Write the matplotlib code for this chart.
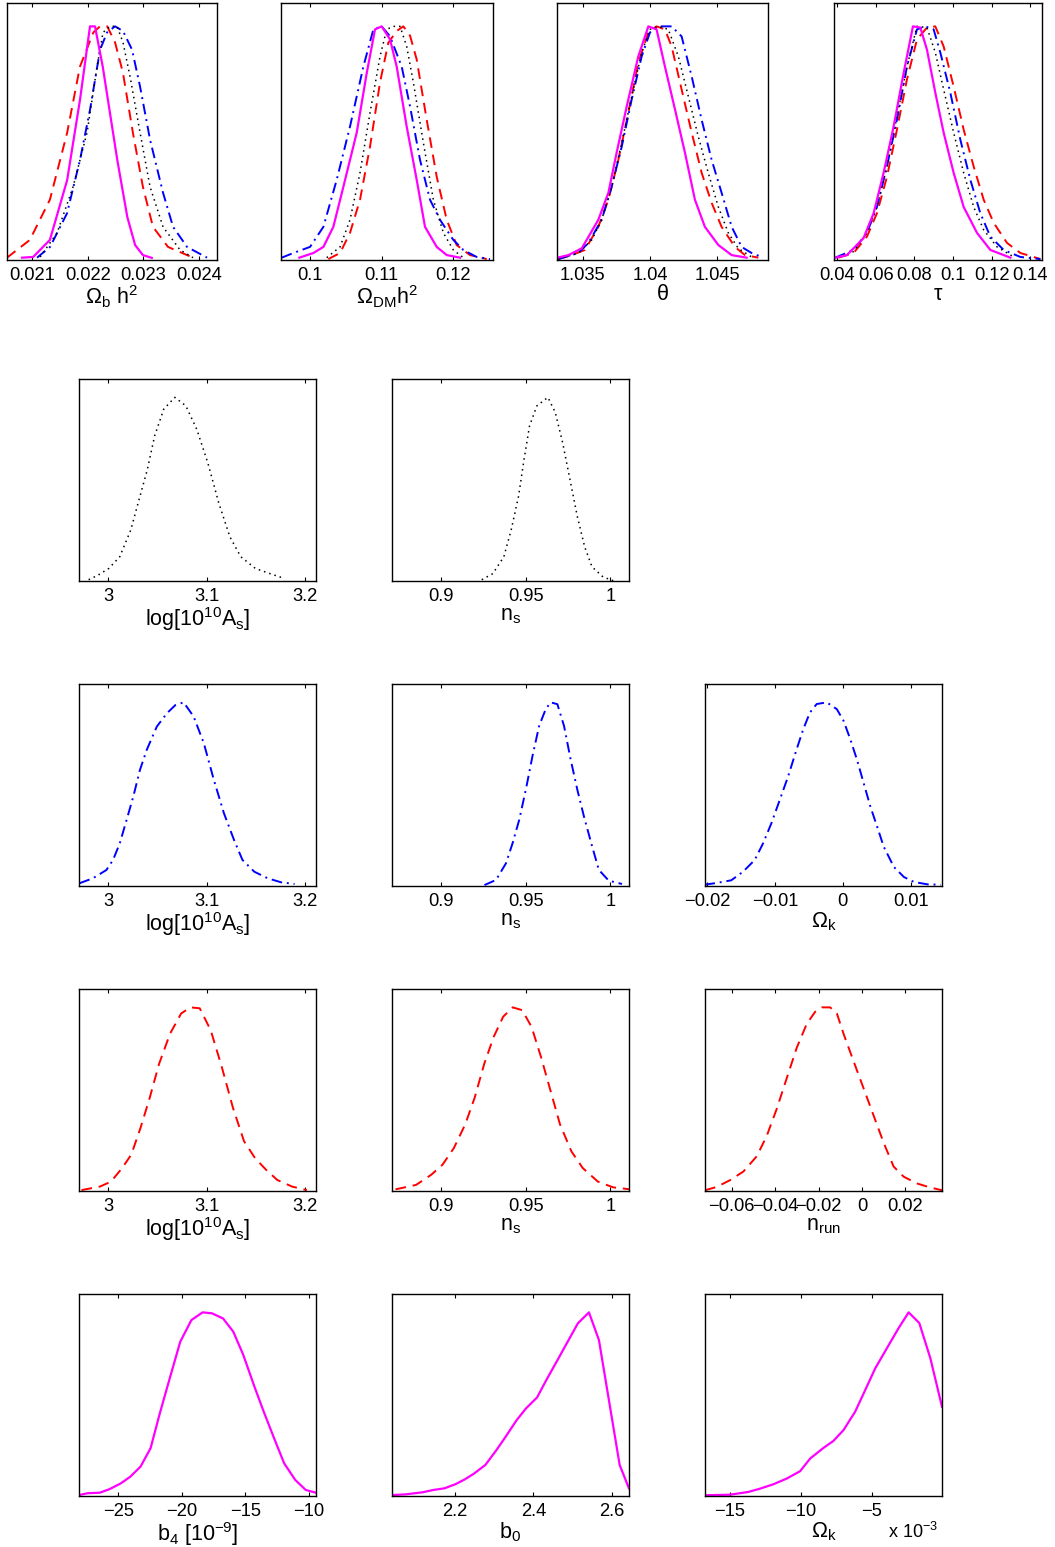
import matplotlib
matplotlib.use("Agg")
import matplotlib.pyplot as plt
from matplotlib.ticker import FuncFormatter, FixedLocator

plt.rcParams['font.family'] = ['Liberation Sans', 'DejaVu Sans']
plt.rcParams['mathtext.default'] = 'regular'
plt.rcParams['mathtext.fontset'] = 'custom'
plt.rcParams['mathtext.rm'] = 'Liberation Sans'
plt.rcParams['mathtext.it'] = 'Liberation Sans'

# ---------------- Row 1 : Omega_b h^2 ----------------
obh2_mag_x = [0.02082, 0.02102, 0.02132, 0.02163, 0.02186, 0.02204, 0.02213, 0.02227, 0.02253, 0.02271, 0.02285, 0.02299, 0.02315]
obh2_mag_y = [0.01, 0.013, 0.086, 0.342, 0.685, 1.0, 1.0, 0.826, 0.428, 0.184, 0.064, 0.021, 0.009]
obh2_red_x = [0.02055, 0.02096, 0.02132, 0.02163, 0.02186, 0.02210, 0.02222, 0.02235, 0.02249, 0.02263, 0.02281, 0.02299, 0.02317, 0.02344, 0.02389]
obh2_red_y = [0.01, 0.086, 0.258, 0.545, 0.828, 0.974, 1.0, 1.0, 0.931, 0.803, 0.545, 0.313, 0.142, 0.056, 0.01]
obh2_blk_x = [0.021144, 0.021449, 0.021736, 0.021987, 0.022167, 0.022274, 0.022400, 0.022526, 0.022633, 0.022759, 0.022939, 0.023118, 0.023351, 0.023657, 0.023890]
obh2_blk_y = [0.013, 0.116, 0.313, 0.545, 0.828, 0.974, 1.0, 1.0, 0.931, 0.785, 0.545, 0.313, 0.142, 0.043, 0.01]
obh2_blu_x = [0.021090, 0.021323, 0.021628, 0.021862, 0.022041, 0.022221, 0.022346, 0.022490, 0.022633, 0.022795, 0.022939, 0.023118, 0.023351, 0.023531, 0.023782, 0.024141]
obh2_blu_y = [0.01, 0.056, 0.20, 0.43, 0.644, 0.90, 0.974, 1.0, 0.98, 0.90, 0.742, 0.515, 0.288, 0.142, 0.056, 0.01]

# ---------------- Row 1 : Omega_DM h^2 ----------------
odm_mag_x = [0.09851, 0.10047, 0.10187, 0.10326, 0.10466, 0.10653, 0.10793, 0.10909, 0.11002, 0.11119, 0.11212, 0.11352, 0.11492, 0.11608, 0.11772, 0.11912, 0.12098]
odm_mag_y = [0.01, 0.03, 0.056, 0.142, 0.313, 0.545, 0.80, 0.987, 1.0, 0.944, 0.828, 0.571, 0.343, 0.142, 0.056, 0.021, 0.01]
odm_blu_x = [0.09604, 0.09767, 0.1000, 0.10187, 0.10373, 0.10559, 0.10746, 0.10886, 0.11002, 0.11119, 0.11282, 0.11399, 0.11538, 0.11678, 0.11818, 0.12004, 0.12144, 0.12331, 0.12517]
odm_blu_y = [0.01, 0.03, 0.056, 0.142, 0.343, 0.571, 0.828, 0.987, 1.0, 0.957, 0.828, 0.657, 0.429, 0.258, 0.172, 0.086, 0.043, 0.013, 0.004]
odm_blk_x = [0.10233, 0.10420, 0.10559, 0.10699, 0.10839, 0.10979, 0.11072, 0.11165, 0.11259, 0.11352, 0.11445, 0.11585, 0.11725, 0.11865, 0.12004, 0.12144]
odm_blk_y = [0.01, 0.056, 0.172, 0.373, 0.63, 0.871, 0.987, 1.0, 1.0, 0.914, 0.76, 0.502, 0.258, 0.116, 0.043, 0.01]
odm_red_x = [0.10256, 0.10420, 0.10559, 0.10699, 0.10839, 0.10979, 0.11095, 0.11212, 0.11305, 0.11399, 0.11492, 0.11632, 0.11772, 0.11912, 0.12051, 0.12238, 0.12471]
odm_red_y = [0.004, 0.03, 0.116, 0.258, 0.485, 0.76, 0.93, 0.98, 1.0, 0.96, 0.858, 0.60, 0.356, 0.172, 0.064, 0.021, 0.004]

# ---------------- Row 1 : theta ----------------
th_mag_x = [1.03312, 1.03394, 1.03493, 1.03616, 1.03691, 1.03752, 1.03827, 1.03913, 1.03988, 1.04049, 1.04111, 1.04186, 1.04260, 1.04334, 1.04408, 1.04508, 1.04607, 1.04718]
th_mag_y = [0.01, 0.021, 0.05, 0.172, 0.288, 0.459, 0.657, 0.871, 1.0, 0.987, 0.828, 0.644, 0.459, 0.258, 0.142, 0.064, 0.021, 0.01]
th_red_x = [1.03319, 1.03418, 1.03517, 1.03616, 1.03691, 1.03765, 1.03839, 1.03913, 1.03988, 1.04049, 1.04111, 1.04161, 1.04235, 1.04310, 1.04384, 1.04458, 1.04532, 1.04631, 1.04706, 1.04805]
th_red_y = [0.004, 0.021, 0.043, 0.142, 0.258, 0.429, 0.63, 0.845, 0.974, 1.0, 0.987, 0.914, 0.73, 0.545, 0.373, 0.245, 0.142, 0.056, 0.021, 0.01]
th_blu_x = [1.03319, 1.03468, 1.03542, 1.03641, 1.03715, 1.03790, 1.03864, 1.03938, 1.04000, 1.04062, 1.04161, 1.04235, 1.04310, 1.04384, 1.04458, 1.04532, 1.04607, 1.04681, 1.04755, 1.04829]
th_blu_y = [0.004, 0.03, 0.073, 0.172, 0.313, 0.485, 0.687, 0.871, 0.974, 1.0, 1.0, 0.957, 0.785, 0.60, 0.429, 0.288, 0.142, 0.056, 0.03, 0.013]
th_blk_x = [1.03319, 1.03468, 1.03567, 1.03641, 1.03715, 1.03790, 1.03864, 1.03938, 1.04000, 1.04062, 1.04136, 1.04211, 1.04285, 1.04359, 1.04433, 1.04508, 1.04582, 1.04656, 1.04755]
th_blk_y = [0.004, 0.03, 0.086, 0.172, 0.313, 0.502, 0.70, 0.888, 0.987, 1.0, 0.987, 0.871, 0.70, 0.528, 0.373, 0.227, 0.116, 0.05, 0.013]

# ---------------- Row 1 : tau ----------------
tau_mag_x = [0.03914, 0.04517, 0.05379, 0.05897, 0.06414, 0.06931, 0.07448, 0.07931, 0.08310, 0.08655, 0.09086, 0.09517, 0.10034, 0.10552, 0.11241, 0.11931, 0.12966]
tau_mag_y = [0.01, 0.021, 0.094, 0.20, 0.373, 0.571, 0.80, 1.0, 0.995, 0.90, 0.716, 0.545, 0.373, 0.227, 0.116, 0.043, 0.01]
tau_red_x = [0.04086, 0.04862, 0.05552, 0.06069, 0.06586, 0.07103, 0.07621, 0.08138, 0.08655, 0.09086, 0.09517, 0.10034, 0.10552, 0.11069, 0.11586, 0.12103, 0.12793, 0.13483, 0.14517]
tau_red_y = [0.01, 0.03, 0.10, 0.20, 0.356, 0.558, 0.773, 0.944, 0.995, 1.0, 0.914, 0.742, 0.558, 0.40, 0.258, 0.159, 0.073, 0.03, 0.004]
tau_blu_x = [0.03914, 0.04862, 0.05552, 0.06069, 0.06586, 0.07103, 0.07621, 0.08138, 0.08569, 0.09000, 0.09345, 0.09862, 0.10379, 0.10897, 0.11414, 0.11931, 0.12621, 0.13483, 0.14517]
tau_blu_y = [0.01, 0.043, 0.116, 0.227, 0.40, 0.60, 0.828, 0.987, 1.0, 0.987, 0.888, 0.716, 0.515, 0.343, 0.20, 0.10, 0.043, 0.013, 0.004]
tau_blk_x = [0.0400, 0.04862, 0.05552, 0.06069, 0.06586, 0.07103, 0.07621, 0.08138, 0.08655, 0.09086, 0.09517, 0.10034, 0.10552, 0.11069, 0.11586, 0.12276, 0.13138]
tau_blk_y = [0.01, 0.036, 0.116, 0.227, 0.40, 0.614, 0.828, 1.0, 0.995, 0.888, 0.73, 0.545, 0.373, 0.227, 0.129, 0.056, 0.013]

# ---------------- Row 2 (black dotted) ----------------
r2_as_x = [2.9803, 2.9896, 3.0007, 3.0119, 3.0231, 3.0305, 3.0399, 3.0473, 3.0566, 3.0678, 3.0790, 3.0901, 3.1013, 3.1125, 3.1237, 3.1348, 3.1497, 3.1646, 3.1795]
r2_as_y = [0.007, 0.031, 0.068, 0.132, 0.278, 0.424, 0.607, 0.79, 0.936, 1.0, 0.954, 0.826, 0.644, 0.424, 0.241, 0.132, 0.068, 0.04, 0.013]
r2_ns_x = [0.92391, 0.93043, 0.93696, 0.94130, 0.94565, 0.94891, 0.95217, 0.95652, 0.96304, 0.96739, 0.97174, 0.97609, 0.98043, 0.98478, 0.98913, 0.99565, 1.00217]
r2_ns_y = [0.007, 0.04, 0.132, 0.278, 0.461, 0.662, 0.845, 0.954, 1.0, 0.918, 0.753, 0.552, 0.351, 0.186, 0.077, 0.022, 0.0]

# ---------------- Row 3 (blue dash-dot) ----------------
r3_as_x = [2.9710, 2.9846, 2.9983, 3.0051, 3.0119, 3.0188, 3.0256, 3.0324, 3.0392, 3.0495, 3.0597, 3.0683, 3.0768, 3.0870, 3.0973, 3.1075, 3.1177, 3.1280, 3.1365, 3.1485, 3.1621, 3.1758, 3.1894]
r3_as_y = [0.015, 0.042, 0.087, 0.142, 0.232, 0.359, 0.486, 0.632, 0.74, 0.868, 0.94, 0.985, 1.0, 0.922, 0.777, 0.577, 0.396, 0.25, 0.142, 0.078, 0.042, 0.02, 0.011]
r3_ns_x = [0.92549, 0.93235, 0.93824, 0.94216, 0.94608, 0.95000, 0.95392, 0.95785, 0.96177, 0.96471, 0.96863, 0.97255, 0.97647, 0.98039, 0.98431, 0.98922, 0.99314, 0.99902, 1.00686]
r3_ns_y = [0.005, 0.033, 0.124, 0.234, 0.361, 0.526, 0.708, 0.872, 0.964, 1.0, 0.99, 0.872, 0.69, 0.526, 0.38, 0.215, 0.088, 0.029, 0.011]
r3_ok_x = [-0.02040, -0.01867, -0.01644, -0.01472, -0.01299, -0.01175, -0.01052, -0.00928, -0.00805, -0.00681, -0.00583, -0.00484, -0.00385, -0.00237, -0.00089, 0.00010, 0.00109, 0.00207, 0.00306, 0.00405, 0.00504, 0.00602, 0.00751, 0.00899, 0.01047, 0.01244, 0.01442]
r3_ok_y = [0.007, 0.016, 0.031, 0.077, 0.141, 0.232, 0.342, 0.47, 0.598, 0.744, 0.854, 0.945, 0.991, 1.0, 0.963, 0.90, 0.80, 0.689, 0.561, 0.433, 0.324, 0.214, 0.104, 0.049, 0.022, 0.009, 0.007]

# ---------------- Row 4 (red dashed) ----------------
r4_as_x = [2.9730, 2.9917, 3.0030, 3.0143, 3.0236, 3.0330, 3.0424, 3.0518, 3.0630, 3.0743, 3.0837, 3.0931, 3.1043, 3.1156, 3.1268, 3.1381, 3.1493, 3.1606, 3.1719, 3.1869, 3.2019]
r4_as_y = [0.005, 0.024, 0.051, 0.125, 0.198, 0.344, 0.509, 0.692, 0.857, 0.967, 1.0, 0.995, 0.875, 0.674, 0.454, 0.271, 0.179, 0.115, 0.06, 0.024, 0.005]
r4_ns_x = [0.87287, 0.88498, 0.89395, 0.90067, 0.90740, 0.91413, 0.91973, 0.92534, 0.93094, 0.93655, 0.94215, 0.94776, 0.95336, 0.95897, 0.96457, 0.97018, 0.97691, 0.98363, 0.99260, 1.00157, 1.01166]
r4_ns_y = [0.009, 0.033, 0.088, 0.143, 0.234, 0.363, 0.509, 0.692, 0.839, 0.949, 1.0, 0.985, 0.894, 0.729, 0.546, 0.363, 0.216, 0.125, 0.051, 0.02, 0.009]
r4_nrun_x = [-0.07231, -0.06692, -0.06077, -0.05462, -0.04846, -0.04385, -0.03923, -0.03462, -0.03000, -0.02538, -0.02154, -0.01846, -0.01462, -0.01154, -0.00846, -0.00385, 0.00077, 0.00538, 0.01000, 0.01462, 0.01923, 0.02538, 0.03154, 0.03692]
r4_nrun_y = [0.004, 0.022, 0.059, 0.106, 0.189, 0.30, 0.448, 0.615, 0.781, 0.911, 0.976, 1.0, 1.0, 0.967, 0.856, 0.707, 0.559, 0.411, 0.263, 0.133, 0.078, 0.041, 0.019, 0.004]

# ---------------- Row 5 (magenta solid) ----------------
r5_b4_x = [-28.10, -27.43, -26.46, -25.67, -24.80, -24.06, -23.25, -22.46, -21.73, -20.91, -20.12, -19.24, -18.36, -17.63, -16.75, -15.94, -15.15, -14.27, -13.54, -12.72, -11.93, -11.05, -10.23, -9.44]
r5_b4_y = [0.005, 0.015, 0.018, 0.038, 0.069, 0.105, 0.16, 0.26, 0.45, 0.65, 0.84, 0.958, 1.0, 0.995, 0.967, 0.895, 0.768, 0.595, 0.459, 0.314, 0.178, 0.087, 0.033, 0.018]
r5_b0_x = [2.0396, 2.0745, 2.1170, 2.1453, 2.1736, 2.2019, 2.2255, 2.2491, 2.2774, 2.3057, 2.3292, 2.3575, 2.3811, 2.4094, 2.4330, 2.4613, 2.4849, 2.5132, 2.5415, 2.5670, 2.6198, 2.6434]
r5_b0_y = [0.005, 0.009, 0.02, 0.033, 0.042, 0.065, 0.091, 0.123, 0.169, 0.25, 0.323, 0.414, 0.477, 0.537, 0.632, 0.74, 0.831, 0.94, 1.0, 0.849, 0.169, 0.042]
r5_ok_x = [-16.76, -15.0, -13.71, -12.88, -11.94, -11.0, -10.06, -9.35, -8.41, -7.71, -7.0, -6.18, -5.47, -4.76, -3.94, -3.12, -2.41, -1.66, -0.88, -0.06]
r5_ok_y = [0.004, 0.007, 0.022, 0.04, 0.064, 0.095, 0.135, 0.204, 0.262, 0.30, 0.359, 0.459, 0.577, 0.696, 0.805, 0.914, 1.0, 0.942, 0.75, 0.486]

# ---------------- axis settings ----------------
xlim_obh2 = (0.02055, 0.02432); ticks_obh2 = [0.021, 0.022, 0.023, 0.024]
xlim_odm = (0.09594, 0.12559); ticks_odm = [0.1, 0.11, 0.12]
xlim_th = (1.03309, 1.04877); ticks_th = [1.035, 1.04, 1.045]
xlim_tau = (0.0385, 0.146); ticks_tau = [0.04, 0.06, 0.08, 0.1, 0.12, 0.14]
xlim_as = (2.9705, 3.2112); ticks_as = [3.0, 3.1, 3.2]
xlim_ns = (0.8708, 1.011); ticks_ns = [0.9, 0.95, 1.0]
xlim_ok = (-0.0203, 0.0146); ticks_ok = [-0.02, -0.01, 0.0, 0.01]
xlim_nrun = (-0.0723, 0.0369); ticks_nrun = [-0.06, -0.04, -0.02, 0.0, 0.02]
xlim_b4 = (-28.1, -9.42); ticks_b4 = [-25, -20, -15, -10]
xlim_b0 = (2.0395, 2.6436); ticks_b0 = [2.2, 2.4, 2.6]
xlim_ok5 = (-16.76, -0.06); ticks_ok5 = [-15, -10, -5]

W, H = 1055, 1547
fig = plt.figure(figsize=(W / 100, H / 100), dpi=100)

def fmt(v, pos=None):
    s = '%g' % round(v, 6)
    if s == '-0':
        s = '0'
    return s.replace('-', '\u2212')

def make_ax(l, t, r, b, xlim, ticks, xlabel):
    ax = fig.add_axes([l / W, 1 - b / H, (r - l) / W, (b - t) / H])
    ax.set_xlim(*xlim)
    ax.set_ylim(0, 1.1)
    ax.xaxis.set_major_locator(FixedLocator(ticks))
    ax.xaxis.set_major_formatter(FuncFormatter(fmt))
    ax.set_yticks([])
    ax.tick_params(axis='x', direction='in', length=3, width=0.8, top=True,
                   labelsize=13.2, pad=5)
    for sp in ax.spines.values():
        sp.set_linewidth(1.0)
    ax.set_xlabel(xlabel, fontsize=15.5, labelpad=0)
    return ax

MAG = dict(color='#ff00ff', lw=1.6, ls='-')
RED = dict(color='#ff0000', lw=1.4, ls=(0, (5.5, 3.5)))
BLU = dict(color='#0000ff', lw=1.4, ls=(0, (5.5, 2.5, 1.0, 2.5)))
BLK = dict(color='#000000', lw=1.1, ls=(0, (1.0, 2.6)))

# Row 1
row1_t, row1_b = 3, 260
ax = make_ax(7, row1_t, 217, row1_b, xlim_obh2, ticks_obh2, r'$\Omega_b$ h$^2$')
ax.plot(obh2_red_x, obh2_red_y, **RED)
ax.plot(obh2_blu_x, obh2_blu_y, **BLU)
ax.plot(obh2_blk_x, obh2_blk_y, **BLK)
ax.plot(obh2_mag_x, obh2_mag_y, **MAG)

ax = make_ax(281, row1_t, 493, row1_b, xlim_odm, ticks_odm, r'$\Omega_{DM}$h$^2$')
ax.plot(odm_red_x, odm_red_y, **RED)
ax.plot(odm_blu_x, odm_blu_y, **BLU)
ax.plot(odm_blk_x, odm_blk_y, **BLK)
ax.plot(odm_mag_x, odm_mag_y, **MAG)

ax = make_ax(557, row1_t, 768, row1_b, xlim_th, ticks_th, '\u03b8')
ax.plot(th_red_x, th_red_y, **RED)
ax.plot(th_blu_x, th_blu_y, **BLU)
ax.plot(th_blk_x, th_blk_y, **BLK)
ax.plot(th_mag_x, th_mag_y, **MAG)

ax = make_ax(834, row1_t, 1042, row1_b, xlim_tau, ticks_tau, '\u03c4')
ax.plot(tau_red_x, tau_red_y, **RED)
ax.plot(tau_blu_x, tau_blu_y, **BLU)
ax.plot(tau_blk_x, tau_blk_y, **BLK)
ax.plot(tau_mag_x, tau_mag_y, **MAG)

cols = [(79, 316), (392, 629), (705, 942)]
rows = [(379, 581), (684, 886), (989, 1191), (1294, 1496)]
lab_as = r'log[10$^{10}$A$_s$]'
lab_ns = r'n$_s$'

# Row 2
t, b = rows[0]
ax = make_ax(cols[0][0], t, cols[0][1], b, xlim_as, ticks_as, lab_as)
ax.plot(r2_as_x, r2_as_y, **BLK)
ax = make_ax(cols[1][0], t, cols[1][1], b, xlim_ns, ticks_ns, lab_ns)
ax.plot(r2_ns_x, r2_ns_y, **BLK)

# Row 3
t, b = rows[1]
ax = make_ax(cols[0][0], t, cols[0][1], b, xlim_as, ticks_as, lab_as)
ax.plot(r3_as_x, r3_as_y, **BLU)
ax = make_ax(cols[1][0], t, cols[1][1], b, xlim_ns, ticks_ns, lab_ns)
ax.plot(r3_ns_x, r3_ns_y, **BLU)
ax = make_ax(cols[2][0], t, cols[2][1], b, xlim_ok, ticks_ok, r'$\Omega_k$')
ax.plot(r3_ok_x, r3_ok_y, **BLU)

# Row 4
t, b = rows[2]
ax = make_ax(cols[0][0], t, cols[0][1], b, xlim_as, ticks_as, lab_as)
ax.plot(r4_as_x, r4_as_y, **RED)
ax = make_ax(cols[1][0], t, cols[1][1], b, xlim_ns, ticks_ns, lab_ns)
ax.plot(r4_ns_x, r4_ns_y, **RED)
ax = make_ax(cols[2][0], t, cols[2][1], b, xlim_nrun, ticks_nrun, r'n$_{run}$')
ax.plot(r4_nrun_x, r4_nrun_y, **RED)

# Row 5
t, b = rows[3]
ax = make_ax(cols[0][0], t, cols[0][1], b, xlim_b4, ticks_b4, r'b$_4$ [10$^{-9}$]')
ax.plot(r5_b4_x, r5_b4_y, **MAG)
ax = make_ax(cols[1][0], t, cols[1][1], b, xlim_b0, ticks_b0, r'b$_0$')
ax.plot(r5_b0_x, r5_b0_y, **MAG)
ax = make_ax(cols[2][0], t, cols[2][1], b, xlim_ok5, ticks_ok5, r'$\Omega_k$')
ax.plot(r5_ok_x, r5_ok_y, **MAG)
fig.text(888 / W, 1 - 1532 / H, r'x 10$^{-3}$', fontsize=13, ha='left', va='center')

fig.savefig('out.png', dpi=100)
